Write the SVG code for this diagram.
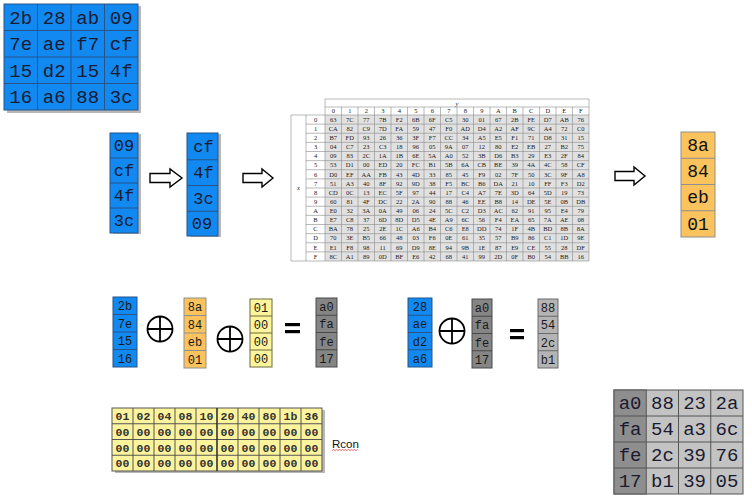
<svg xmlns="http://www.w3.org/2000/svg" width="752" height="497" viewBox="0 0 752 497">
<style>
.mono{font-family:"Liberation Mono","Courier New",monospace;text-anchor:middle}
.big{font-size:19px;fill:#1a1a30}
.mid{font-size:17px;fill:#1a1a30}
.sm{font-size:12px;fill:#1a1a1a}
.rc{font-size:11.5px;font-weight:bold;fill:#333}
.blue{fill:#1189f1;stroke:#27558a;stroke-width:1}
.org{fill:#fbc35e;stroke:#8f8f8f;stroke-width:1}
.yel{fill:#fdf59e;stroke:#6b6a3a;stroke-width:1}
.dg{fill:#858585;stroke:#4a4a4a;stroke-width:1}
.lg{fill:#b4b4b4;stroke:#6a6a6a;stroke-width:1}
.shadow{fill:#b8b8b8}
.sb{font-family:"Liberation Serif","Times New Roman",serif;font-size:6.5px;text-anchor:middle;fill:#222}
.arrow{fill:#fff;stroke:#000;stroke-width:1.4;stroke-linejoin:miter}
.op{fill:none;stroke:#000;stroke-width:1.8}
.bar{fill:#000}
</style>

<!-- top-left state matrix -->
<g id="state">
  <rect class="shadow" x="7" y="6" width="134" height="107"/>
  <rect class="blue" x="4" y="4" width="134" height="106"/>
  <path d="M37.5 4V110M71 4V110M104.5 4V110M4 30.5H138M4 57H138M4 83.5H138" stroke="#27558a" stroke-width="1"/>
  <g class="mono big">
    <text x="20.75" y="23.5">2b</text><text x="54.25" y="23.5">28</text><text x="87.75" y="23.5">ab</text><text x="121.25" y="23.5">09</text>
    <text x="20.75" y="50">7e</text><text x="54.25" y="50">ae</text><text x="87.75" y="50">f7</text><text x="121.25" y="50">cf</text>
    <text x="20.75" y="76.5">15</text><text x="54.25" y="76.5">d2</text><text x="87.75" y="76.5">15</text><text x="121.25" y="76.5">4f</text>
    <text x="20.75" y="103">16</text><text x="54.25" y="103">a6</text><text x="87.75" y="103">88</text><text x="121.25" y="103">3c</text>
  </g>
</g>

<!-- last column -->
<g id="col-w3">
  <rect class="shadow" x="113" y="134" width="28" height="100"/>
  <rect class="blue" x="110" y="133" width="28" height="100"/>
  <path d="M110 158H138M110 183H138M110 208H138" stroke="#27558a"/>
  <g class="mono mid">
    <text x="124" y="151">09</text><text x="124" y="176">cf</text><text x="124" y="201">4f</text><text x="124" y="226">3c</text>
  </g>
</g>

<!-- rotated column -->
<g id="col-rot">
  <rect class="shadow" x="190" y="134" width="31" height="103"/>
  <rect class="blue" x="187" y="133" width="31" height="103"/>
  <path d="M187 159.75H218M187 185.5H218M187 211.25H218" stroke="#27558a"/>
  <g class="mono mid">
    <text x="203.5" y="152">cf</text><text x="203.5" y="177.5">4f</text><text x="203.5" y="203.5">3c</text><text x="202" y="229">09</text>
  </g>
</g>

<!-- S-box table -->
<g id="sbox">
  <rect x="325" y="99" width="264" height="16" fill="#fff"/>
  <rect x="291" y="115" width="34" height="146" fill="#fff"/>
  <rect x="325" y="115" width="264" height="146" fill="#e1e1e1"/>
  <path fill="none" stroke="#8c8c8c" stroke-width="0.6" d="M325 99H589M325 107H589M325 99V107M589 99V261M291 115V261M291 261H589M306 115V261
  M325 107V261M341.5 107V261M358 107V261M374.5 107V261M391 107V261M407.5 107V261M424 107V261M440.5 107V261M457 107V261M473.5 107V261M490 107V261M506.5 107V261M523 107V261M539.5 107V261M556 107V261M572.5 107V261
  M291 115H589M306 124.125H589M306 133.25H589M306 142.375H589M306 151.5H589M306 160.625H589M306 169.75H589M306 178.875H589M306 188H589M306 197.125H589M306 206.25H589M306 215.375H589M306 224.5H589M306 233.625H589M306 242.75H589M306 251.875H589"/>
  <text class="sb" x="457" y="105.5" font-style="italic">y</text>
  <text class="sb" x="298.5" y="190" font-style="italic" font-size="7">x</text>
  <text class="sb" y="113.2"><tspan x="333.25">0</tspan><tspan x="349.75">1</tspan><tspan x="366.25">2</tspan><tspan x="382.75">3</tspan><tspan x="399.25">4</tspan><tspan x="415.75">5</tspan><tspan x="432.25">6</tspan><tspan x="448.75">7</tspan><tspan x="465.25">8</tspan><tspan x="481.75">9</tspan><tspan x="498.25">A</tspan><tspan x="514.75">B</tspan><tspan x="531.25">C</tspan><tspan x="547.75">D</tspan><tspan x="564.25">E</tspan><tspan x="580.75">F</tspan></text>
  <text class="sb" x="315.5"><tspan x="315.5" y="121.8">0</tspan><tspan x="315.5" y="130.9">1</tspan><tspan x="315.5" y="140">2</tspan><tspan x="315.5" y="149.2">3</tspan><tspan x="315.5" y="158.3">4</tspan><tspan x="315.5" y="167.4">5</tspan><tspan x="315.5" y="176.5">6</tspan><tspan x="315.5" y="185.7">7</tspan><tspan x="315.5" y="194.8">8</tspan><tspan x="315.5" y="203.9">9</tspan><tspan x="315.5" y="213">A</tspan><tspan x="315.5" y="222.2">B</tspan><tspan x="315.5" y="231.3">C</tspan><tspan x="315.5" y="240.4">D</tspan><tspan x="315.5" y="249.5">E</tspan><tspan x="315.5" y="258.7">F</tspan></text>
  <text class="sb" y="121.8"><tspan x="333.25">63</tspan><tspan x="349.75">7C</tspan><tspan x="366.25">77</tspan><tspan x="382.75">7B</tspan><tspan x="399.25">F2</tspan><tspan x="415.75">6B</tspan><tspan x="432.25">6F</tspan><tspan x="448.75">C5</tspan><tspan x="465.25">30</tspan><tspan x="481.75">01</tspan><tspan x="498.25">67</tspan><tspan x="514.75">2B</tspan><tspan x="531.25">FE</tspan><tspan x="547.75">D7</tspan><tspan x="564.25">AB</tspan><tspan x="580.75">76</tspan></text>
  <text class="sb" y="130.9"><tspan x="333.25">CA</tspan><tspan x="349.75">82</tspan><tspan x="366.25">C9</tspan><tspan x="382.75">7D</tspan><tspan x="399.25">FA</tspan><tspan x="415.75">59</tspan><tspan x="432.25">47</tspan><tspan x="448.75">F0</tspan><tspan x="465.25">AD</tspan><tspan x="481.75">D4</tspan><tspan x="498.25">A2</tspan><tspan x="514.75">AF</tspan><tspan x="531.25">9C</tspan><tspan x="547.75">A4</tspan><tspan x="564.25">72</tspan><tspan x="580.75">C0</tspan></text>
  <text class="sb" y="140"><tspan x="333.25">B7</tspan><tspan x="349.75">FD</tspan><tspan x="366.25">93</tspan><tspan x="382.75">26</tspan><tspan x="399.25">36</tspan><tspan x="415.75">3F</tspan><tspan x="432.25">F7</tspan><tspan x="448.75">CC</tspan><tspan x="465.25">34</tspan><tspan x="481.75">A5</tspan><tspan x="498.25">E5</tspan><tspan x="514.75">F1</tspan><tspan x="531.25">71</tspan><tspan x="547.75">D8</tspan><tspan x="564.25">31</tspan><tspan x="580.75">15</tspan></text>
  <text class="sb" y="149.2"><tspan x="333.25">04</tspan><tspan x="349.75">C7</tspan><tspan x="366.25">23</tspan><tspan x="382.75">C3</tspan><tspan x="399.25">18</tspan><tspan x="415.75">96</tspan><tspan x="432.25">05</tspan><tspan x="448.75">9A</tspan><tspan x="465.25">07</tspan><tspan x="481.75">12</tspan><tspan x="498.25">80</tspan><tspan x="514.75">E2</tspan><tspan x="531.25">EB</tspan><tspan x="547.75">27</tspan><tspan x="564.25">B2</tspan><tspan x="580.75">75</tspan></text>
  <text class="sb" y="158.3"><tspan x="333.25">09</tspan><tspan x="349.75">83</tspan><tspan x="366.25">2C</tspan><tspan x="382.75">1A</tspan><tspan x="399.25">1B</tspan><tspan x="415.75">6E</tspan><tspan x="432.25">5A</tspan><tspan x="448.75">A0</tspan><tspan x="465.25">52</tspan><tspan x="481.75">3B</tspan><tspan x="498.25">D6</tspan><tspan x="514.75">B3</tspan><tspan x="531.25">29</tspan><tspan x="547.75">E3</tspan><tspan x="564.25">2F</tspan><tspan x="580.75">84</tspan></text>
  <text class="sb" y="167.4"><tspan x="333.25">53</tspan><tspan x="349.75">D1</tspan><tspan x="366.25">00</tspan><tspan x="382.75">ED</tspan><tspan x="399.25">20</tspan><tspan x="415.75">FC</tspan><tspan x="432.25">B1</tspan><tspan x="448.75">5B</tspan><tspan x="465.25">6A</tspan><tspan x="481.75">CB</tspan><tspan x="498.25">BE</tspan><tspan x="514.75">39</tspan><tspan x="531.25">4A</tspan><tspan x="547.75">4C</tspan><tspan x="564.25">58</tspan><tspan x="580.75">CF</tspan></text>
  <text class="sb" y="176.5"><tspan x="333.25">D0</tspan><tspan x="349.75">EF</tspan><tspan x="366.25">AA</tspan><tspan x="382.75">FB</tspan><tspan x="399.25">43</tspan><tspan x="415.75">4D</tspan><tspan x="432.25">33</tspan><tspan x="448.75">85</tspan><tspan x="465.25">45</tspan><tspan x="481.75">F9</tspan><tspan x="498.25">02</tspan><tspan x="514.75">7F</tspan><tspan x="531.25">50</tspan><tspan x="547.75">3C</tspan><tspan x="564.25">9F</tspan><tspan x="580.75">A8</tspan></text>
  <text class="sb" y="185.7"><tspan x="333.25">51</tspan><tspan x="349.75">A3</tspan><tspan x="366.25">40</tspan><tspan x="382.75">8F</tspan><tspan x="399.25">92</tspan><tspan x="415.75">9D</tspan><tspan x="432.25">38</tspan><tspan x="448.75">F5</tspan><tspan x="465.25">BC</tspan><tspan x="481.75">B6</tspan><tspan x="498.25">DA</tspan><tspan x="514.75">21</tspan><tspan x="531.25">10</tspan><tspan x="547.75">FF</tspan><tspan x="564.25">F3</tspan><tspan x="580.75">D2</tspan></text>
  <text class="sb" y="194.8"><tspan x="333.25">CD</tspan><tspan x="349.75">0C</tspan><tspan x="366.25">13</tspan><tspan x="382.75">EC</tspan><tspan x="399.25">5F</tspan><tspan x="415.75">97</tspan><tspan x="432.25">44</tspan><tspan x="448.75">17</tspan><tspan x="465.25">C4</tspan><tspan x="481.75">A7</tspan><tspan x="498.25">7E</tspan><tspan x="514.75">3D</tspan><tspan x="531.25">64</tspan><tspan x="547.75">5D</tspan><tspan x="564.25">19</tspan><tspan x="580.75">73</tspan></text>
  <text class="sb" y="203.9"><tspan x="333.25">60</tspan><tspan x="349.75">81</tspan><tspan x="366.25">4F</tspan><tspan x="382.75">DC</tspan><tspan x="399.25">22</tspan><tspan x="415.75">2A</tspan><tspan x="432.25">90</tspan><tspan x="448.75">88</tspan><tspan x="465.25">46</tspan><tspan x="481.75">EE</tspan><tspan x="498.25">B8</tspan><tspan x="514.75">14</tspan><tspan x="531.25">DE</tspan><tspan x="547.75">5E</tspan><tspan x="564.25">0B</tspan><tspan x="580.75">DB</tspan></text>
  <text class="sb" y="213"><tspan x="333.25">E0</tspan><tspan x="349.75">32</tspan><tspan x="366.25">3A</tspan><tspan x="382.75">0A</tspan><tspan x="399.25">49</tspan><tspan x="415.75">06</tspan><tspan x="432.25">24</tspan><tspan x="448.75">5C</tspan><tspan x="465.25">C2</tspan><tspan x="481.75">D3</tspan><tspan x="498.25">AC</tspan><tspan x="514.75">62</tspan><tspan x="531.25">91</tspan><tspan x="547.75">95</tspan><tspan x="564.25">E4</tspan><tspan x="580.75">79</tspan></text>
  <text class="sb" y="222.2"><tspan x="333.25">E7</tspan><tspan x="349.75">C8</tspan><tspan x="366.25">37</tspan><tspan x="382.75">6D</tspan><tspan x="399.25">8D</tspan><tspan x="415.75">D5</tspan><tspan x="432.25">4E</tspan><tspan x="448.75">A9</tspan><tspan x="465.25">6C</tspan><tspan x="481.75">56</tspan><tspan x="498.25">F4</tspan><tspan x="514.75">EA</tspan><tspan x="531.25">65</tspan><tspan x="547.75">7A</tspan><tspan x="564.25">AE</tspan><tspan x="580.75">08</tspan></text>
  <text class="sb" y="231.3"><tspan x="333.25">BA</tspan><tspan x="349.75">78</tspan><tspan x="366.25">25</tspan><tspan x="382.75">2E</tspan><tspan x="399.25">1C</tspan><tspan x="415.75">A6</tspan><tspan x="432.25">B4</tspan><tspan x="448.75">C6</tspan><tspan x="465.25">E8</tspan><tspan x="481.75">DD</tspan><tspan x="498.25">74</tspan><tspan x="514.75">1F</tspan><tspan x="531.25">4B</tspan><tspan x="547.75">BD</tspan><tspan x="564.25">8B</tspan><tspan x="580.75">8A</tspan></text>
  <text class="sb" y="240.4"><tspan x="333.25">70</tspan><tspan x="349.75">3E</tspan><tspan x="366.25">B5</tspan><tspan x="382.75">66</tspan><tspan x="399.25">48</tspan><tspan x="415.75">03</tspan><tspan x="432.25">F6</tspan><tspan x="448.75">0E</tspan><tspan x="465.25">61</tspan><tspan x="481.75">35</tspan><tspan x="498.25">57</tspan><tspan x="514.75">B9</tspan><tspan x="531.25">86</tspan><tspan x="547.75">C1</tspan><tspan x="564.25">1D</tspan><tspan x="580.75">9E</tspan></text>
  <text class="sb" y="249.5"><tspan x="333.25">E1</tspan><tspan x="349.75">F8</tspan><tspan x="366.25">98</tspan><tspan x="382.75">11</tspan><tspan x="399.25">69</tspan><tspan x="415.75">D9</tspan><tspan x="432.25">8E</tspan><tspan x="448.75">94</tspan><tspan x="465.25">9B</tspan><tspan x="481.75">1E</tspan><tspan x="498.25">87</tspan><tspan x="514.75">E9</tspan><tspan x="531.25">CE</tspan><tspan x="547.75">55</tspan><tspan x="564.25">28</tspan><tspan x="580.75">DF</tspan></text>
  <text class="sb" y="258.7"><tspan x="333.25">8C</tspan><tspan x="349.75">A1</tspan><tspan x="366.25">89</tspan><tspan x="382.75">0D</tspan><tspan x="399.25">BF</tspan><tspan x="415.75">E6</tspan><tspan x="432.25">42</tspan><tspan x="448.75">68</tspan><tspan x="465.25">41</tspan><tspan x="481.75">99</tspan><tspan x="498.25">2D</tspan><tspan x="514.75">0F</tspan><tspan x="531.25">B0</tspan><tspan x="547.75">54</tspan><tspan x="564.25">BB</tspan><tspan x="580.75">16</tspan></text>
</g>

<!-- substituted column -->
<g id="col-sub">
  <rect class="org" x="681" y="132" width="34" height="105"/>
  <path d="M681 158.25H715M681 184.5H715M681 210.75H715" stroke="#8f8f8f"/>
  <g class="mono" font-size="18px" fill="#111">
    <text x="698" y="151">8a</text><text x="698" y="177">84</text><text x="698" y="203">eb</text><text x="698" y="230">01</text>
  </g>
</g>

<!-- first XOR row -->
<g id="xor1-w0">
  <rect class="blue" x="113" y="297" width="24" height="70"/>
  <path d="M113 314.5H137M113 332H137M113 349.5H137" stroke="#27558a"/>
  <g class="mono sm"><text x="125" y="310">2b</text><text x="125" y="327.5">7e</text><text x="125" y="345">15</text><text x="125" y="362.5">16</text></g>
</g>
<g id="xor1-sub">
  <rect class="org" x="184" y="298" width="22" height="70"/>
  <path d="M184 315.5H206M184 333H206M184 350.5H206" stroke="#8f8f8f"/>
  <g class="mono sm"><text x="195" y="311">8a</text><text x="195" y="328.5">84</text><text x="195" y="346">eb</text><text x="195" y="363.5">01</text></g>
</g>
<g id="xor1-rcon">
  <rect class="yel" x="250" y="299" width="22" height="68"/>
  <path d="M250 316H272M250 333H272M250 350H272" stroke="#6b6a3a"/>
  <g class="mono sm"><text x="261" y="312">01</text><text x="261" y="329">00</text><text x="261" y="346">00</text><text x="261" y="363">00</text></g>
</g>
<g id="xor1-result">
  <rect class="dg" x="316" y="298" width="21" height="69"/>
  <path d="M316 315.25H337M316 332.5H337M316 349.75H337" stroke="#4a4a4a"/>
  <g class="mono sm"><text x="326.5" y="311">a0</text><text x="326.5" y="328">fa</text><text x="326.5" y="345.5">fe</text><text x="326.5" y="362.5">17</text></g>
</g>

<!-- second XOR row -->
<g id="xor2-w1">
  <rect class="blue" x="408" y="298" width="24" height="69"/>
  <path d="M408 315.25H432M408 332.5H432M408 349.75H432" stroke="#27558a"/>
  <g class="mono sm"><text x="420" y="311">28</text><text x="420" y="328">ae</text><text x="420" y="345.5">d2</text><text x="420" y="362.5">a6</text></g>
</g>
<g id="xor2-prev">
  <rect class="dg" x="472" y="299" width="20" height="69"/>
  <path d="M472 316.25H492M472 333.5H492M472 350.75H492" stroke="#4a4a4a"/>
  <g class="mono sm"><text x="482" y="312">a0</text><text x="482" y="329">fa</text><text x="482" y="346.5">fe</text><text x="482" y="363.5">17</text></g>
</g>
<g id="xor2-result">
  <rect class="lg" x="538" y="299" width="20" height="69"/>
  <path d="M538 316.25H558M538 333.5H558M538 350.75H558" stroke="#6a6a6a"/>
  <g class="mono sm"><text x="548" y="312">88</text><text x="548" y="329">54</text><text x="548" y="346.5">2c</text><text x="548" y="363.5">b1</text></g>
</g>

<!-- Rcon table -->
<g id="rcon">
  <rect class="shadow" x="115" y="410" width="210" height="63"/>
  <rect x="112" y="408" width="210" height="63" fill="#fcf49c" stroke="#555" stroke-width="1"/>
  <path d="M133 408V471M154 408V471M175 408V471M196 408V471M238 408V471M259 408V471M280 408V471M301 408V471M112 423.75H322M112 439.5H322M112 455.25H322" stroke="#555" stroke-width="1"/>
  <path d="M217 408V471" stroke="#333" stroke-width="1.6"/>
  <g class="mono rc">
    <text y="420"><tspan x="122.5">01</tspan><tspan x="143.5">02</tspan><tspan x="164.5">04</tspan><tspan x="185.5">08</tspan><tspan x="206.5">10</tspan><tspan x="227.5">20</tspan><tspan x="248.5">40</tspan><tspan x="269.5">80</tspan><tspan x="290.5">1b</tspan><tspan x="311.5">36</tspan></text>
    <text y="435.75"><tspan x="122.5">00</tspan><tspan x="143.5">00</tspan><tspan x="164.5">00</tspan><tspan x="185.5">00</tspan><tspan x="206.5">00</tspan><tspan x="227.5">00</tspan><tspan x="248.5">00</tspan><tspan x="269.5">00</tspan><tspan x="290.5">00</tspan><tspan x="311.5">00</tspan></text>
    <text y="451.5"><tspan x="122.5">00</tspan><tspan x="143.5">00</tspan><tspan x="164.5">00</tspan><tspan x="185.5">00</tspan><tspan x="206.5">00</tspan><tspan x="227.5">00</tspan><tspan x="248.5">00</tspan><tspan x="269.5">00</tspan><tspan x="290.5">00</tspan><tspan x="311.5">00</tspan></text>
    <text y="467.25"><tspan x="122.5">00</tspan><tspan x="143.5">00</tspan><tspan x="164.5">00</tspan><tspan x="185.5">00</tspan><tspan x="206.5">00</tspan><tspan x="227.5">00</tspan><tspan x="248.5">00</tspan><tspan x="269.5">00</tspan><tspan x="290.5">00</tspan><tspan x="311.5">00</tspan></text>
  </g>
  <text x="332" y="448" font-family="'Liberation Sans',Arial,sans-serif" font-size="11.5px" fill="#111">Rcon</text>
  <path d="M332 450.5l1.5-1 1.5 1 1.5-1 1.5 1 1.5-1 1.5 1 1.5-1 1.5 1 1.5-1 1.5 1 1.5-1 1.5 1 1.5-1 1.5 1 1.5-1 1.5 1 1.5-1" fill="none" stroke="#e03030" stroke-width="0.7"/>
</g>

<!-- round key matrix -->
<g id="roundkey">
  <rect x="614" y="390" width="129" height="104" fill="#c3c3c3" stroke="#555"/>
  <rect x="614" y="390" width="32.25" height="104" fill="#8e8e8e" stroke="#555"/>
  <path d="M678.5 390V494M710.75 390V494M614 416H743M614 442H743M614 468H743" stroke="#555" stroke-width="1"/>
  <g class="mono big" fill="#222">
    <text x="630.1" y="409">a0</text><text x="662.4" y="409">88</text><text x="694.6" y="409">23</text><text x="726.9" y="409">2a</text>
    <text x="630.1" y="435">fa</text><text x="662.4" y="435">54</text><text x="694.6" y="435">a3</text><text x="726.9" y="435">6c</text>
    <text x="630.1" y="461">fe</text><text x="662.4" y="461">2c</text><text x="694.6" y="461">39</text><text x="726.9" y="461">76</text>
    <text x="630.1" y="487">17</text><text x="662.4" y="487">b1</text><text x="694.6" y="487">39</text><text x="726.9" y="487">05</text>
  </g>
</g>

<!-- connectors and operators -->
<g id="connectors">
  <path class="arrow" d="M150 173.5H170V169L182 178L170 187V182.5H150Z"/>
  <path class="arrow" d="M243 173.5H262V169L273 178L262 187V182.5H243Z"/>
  <path class="arrow" d="M615 171.5H634V167L645 176L634 185V180.5H615Z"/>
  <g class="op">
    <circle cx="160" cy="329" r="12.5"/><path d="M147.5 329H172.5M160 316.5V341.5"/>
    <circle cx="230" cy="339" r="12.5"/><path d="M217.5 339H242.5M230 326.5V351.5"/>
    <circle cx="452" cy="331" r="12.5"/><path d="M439.5 331H464.5M452 318.5V343.5"/>
  </g>
  <rect class="bar" x="285" y="323" width="15" height="3.2"/>
  <rect class="bar" x="285" y="330" width="15" height="3.2"/>
  <rect class="bar" x="510" y="329" width="14" height="3.2"/>
  <rect class="bar" x="510" y="336" width="14" height="3.2"/>
</g>
</svg>
